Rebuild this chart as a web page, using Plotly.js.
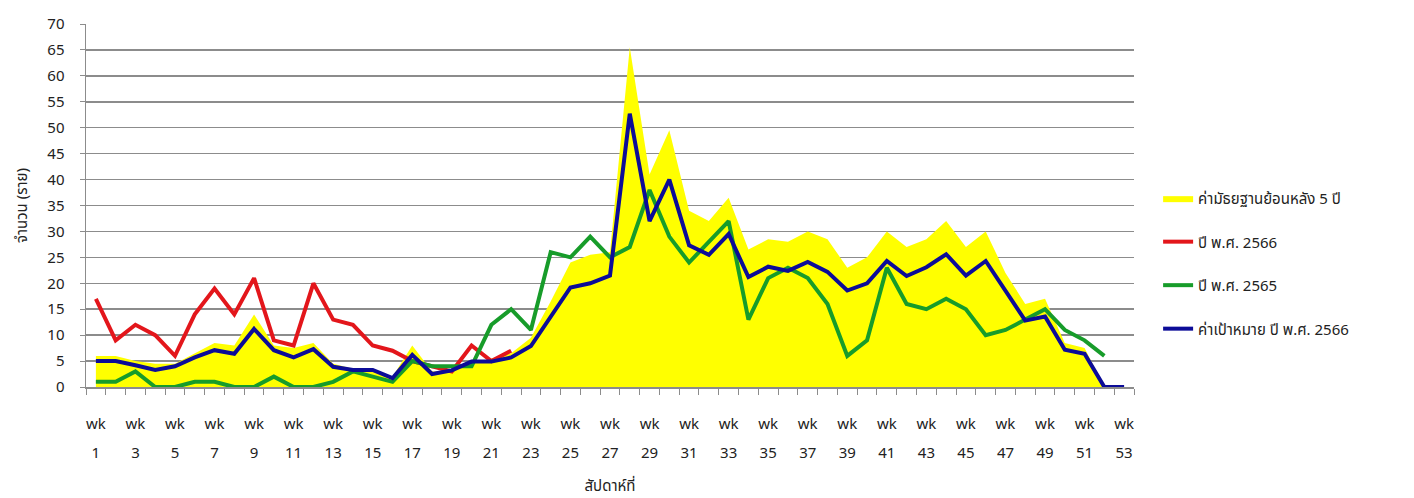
<!DOCTYPE html>
<html><head><meta charset="utf-8">
<script src="https://cdn.plot.ly/plotly-3.0.1.min.js"></script>
<style>html,body{margin:0;padding:0;background:#fff}#chart{width:1414px;height:498px}</style>
</head><body><div id="chart"></div>
<script>
const weeks = [1,2,3,4,5,6,7,8,9,10,11,12,13,14,15,16,17,18,19,20,21,22,23,24,25,26,27,28,29,30,31,32,33,34,35,36,37,38,39,40,41,42,43,44,45,46,47,48,49,50,51,52,53];
const median5 = [6,6,5,4.5,4.5,6.5,8.5,8,14,8,7.5,8.5,4.5,3.5,3.5,2,8,3,3,4.5,5.5,6.5,9.5,16.5,24,25.5,26,65.5,41,49.5,34,32,36.5,26.5,28.5,28,30,28.5,23,25,30,27,28.5,32,27,30,22,16,17,8.5,7.5,0,0];
const year2566 = [17,9,12,10,6,14,19,14,21,9,8,20,13,12,8,7,5,4,3,8,5,7];
const year2565 = [1,1,3,0,0,1,1,0,0,2,0,0,1,3,2,1,5,4,4,4,12,15,11,26,25,29,25,27,38,29,24,28,32,13,21,23,21,16,6,9,23,16,15,17,15,10,11,13,15,11,9,6];
const target2566 = [5,5,4.2,3.3,4,5.7,7.1,6.4,11.2,7.1,5.7,7.3,3.9,3.3,3.3,1.7,6.2,2.5,3.2,4.9,4.9,5.7,7.9,13.6,19.2,20,21.5,52.7,32,40,27.3,25.5,29.5,21.2,23.2,22.4,24.1,22.2,18.6,20,24.3,21.4,23.1,25.6,21.5,24.3,18.6,12.8,13.6,7.2,6.4,0,0];
const tickWeeks = [1,3,5,7,9,11,13,15,17,19,21,23,25,27,29,31,33,35,37,39,41,43,45,47,49,51,53];
const tickPrefix = 'wk';
const seriesNames = ['ค่ามัธยฐานย้อนหลัง 5 ปี','ปี พ.ศ. 2566','ปี พ.ศ. 2565','ค่าเป้าหมาย ปี พ.ศ. 2566'];
const yTitle = 'จำนวน (ราย)';
const xTitle = 'สัปดาห์ที่';

const FONT = "Tahoma, 'Noto Sans Thai', 'Noto Sans', 'DejaVu Sans', sans-serif";
const GRID = '#8c8c8c';

const traces = [
  {x: weeks, y: median5, name: seriesNames[0], type: 'scatter', mode: 'lines', fill: 'tozeroy',
   fillcolor: '#ffff00', line: {width: 0, color: '#ffff00'}, legendgroup: 'a'},
  {x: weeks.slice(0, year2566.length), y: year2566, name: seriesNames[1], type: 'scatter', mode: 'lines',
   line: {width: 4, color: '#e3161b'}, legendgroup: 'b'},
  {x: weeks.slice(0, year2565.length), y: year2565, name: seriesNames[2], type: 'scatter', mode: 'lines',
   line: {width: 4, color: '#179c2a'}, legendgroup: 'c'},
  {x: weeks, y: target2566, name: seriesNames[3], type: 'scatter', mode: 'lines',
   line: {width: 4, color: '#0c0c98'}, legendgroup: 'd'},
  {x: [], y: [], xaxis: 'x2', showlegend: false, hoverinfo: 'skip', type: 'scatter'}
];

const layout = {
  width: 1414, height: 498,
  margin: {l: 86, r: 280, t: 24, b: 111},
  paper_bgcolor: '#fff', plot_bgcolor: '#fff',
  font: {family: FONT, size: 15, color: '#222'},
  showlegend: true,
  legend: {x: 1.023, y: 0.565, xanchor: 'left', yanchor: 'top', tracegroupgap: 21,
           font: {family: FONT, size: 15, color: '#222'}, bgcolor: 'rgba(0,0,0,0)'},
  xaxis: {
    type: 'linear', range: [0.5, 53.5], tickmode: 'array', tickvals: tickWeeks,
    ticktext: tickWeeks.map(() => tickPrefix), ticks: '', showgrid: false, zeroline: false,
    showline: true, linecolor: GRID, linewidth: 1.5, ticklabelstandoff: 22,
    tickfont: {size: 15, family: FONT, color: '#222'},
    minor: {tickmode: 'linear', tick0: 0.5, dtick: 1, ticks: 'outside', ticklen: 6,
            tickcolor: GRID, tickwidth: 1, showgrid: false}
  },
  xaxis2: {
    overlaying: 'x', anchor: 'y', side: 'bottom', type: 'linear', range: [0.5, 53.5],
    tickmode: 'array', tickvals: tickWeeks, ticktext: tickWeeks.map(String), ticks: '',
    showgrid: false, zeroline: false, showline: false, ticklabelstandoff: 55,
    tickfont: {size: 15, family: FONT, color: '#222'},
    title: {text: xTitle, standoff: 17, font: {size: 15, family: FONT, color: '#222'}}
  },
  yaxis: {
    range: [0, 70], dtick: 5, tick0: 0, showgrid: true, gridcolor: GRID, gridwidth: 1.5,
    zeroline: false, showline: true, linecolor: GRID, linewidth: 1.5,
    ticks: 'outside', ticklen: 5, tickcolor: GRID, tickwidth: 1, ticklabelstandoff: 12,
    tickfont: {size: 15, family: FONT, color: '#222'},
    title: {text: yTitle, standoff: 16, font: {size: 15, family: FONT, color: '#222'}}
  }
};

Plotly.newPlot('chart', traces, layout, {displayModeBar: false, staticPlot: true});
</script>
</body></html>
